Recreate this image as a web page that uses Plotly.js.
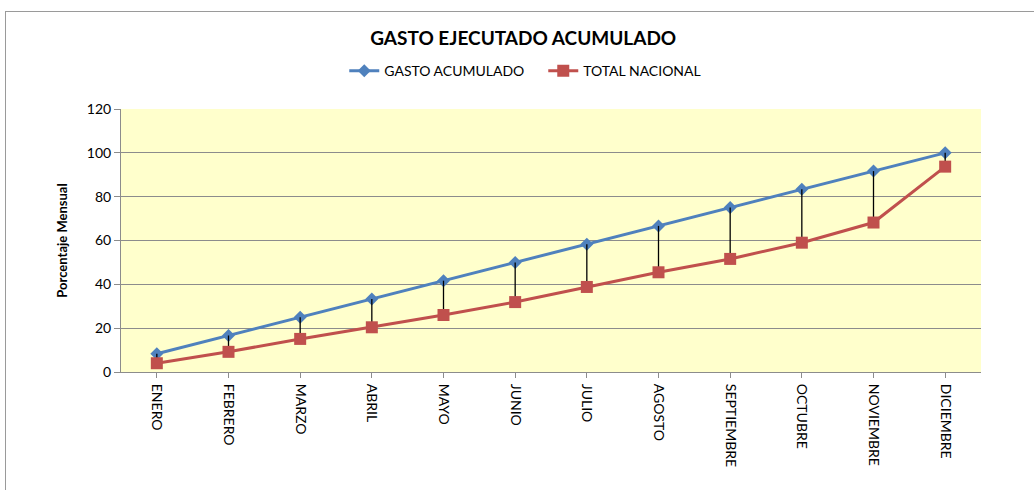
<!DOCTYPE html>
<html>
<head>
<meta charset="utf-8">
<script src="https://cdn.plot.ly/plotly-3.0.1.min.js"></script>
<style>
html,body{margin:0;padding:0;background:#fff;overflow:hidden;}
#frame{position:absolute;left:5px;top:11px;width:1100px;height:600px;border-left:1px solid #9a9a9a;border-top:1px solid #9a9a9a;pointer-events:none;z-index:5;}
#chart{width:1034px;height:490px;}
</style>
</head>
<body>
<div id="frame"></div>
<div id="chart"></div>
<script>
const months = ["ENERO","FEBRERO","MARZO","ABRIL","MAYO","JUNIO","JULIO","AGOSTO","SEPTIEMBRE","OCTUBRE","NOVIEMBRE","DICIEMBRE"];
const gastoAcumulado = [8.33, 16.67, 25, 33.33, 41.67, 50, 58.33, 66.67, 75, 83.33, 91.67, 100];
const totalNacional = [4.0, 9.2, 15.1, 20.4, 26.0, 31.9, 38.8, 45.5, 51.6, 59.0, 68.2, 93.7];
const yTicks = [0, 20, 40, 60, 80, 100, 120];

const gap = gastoAcumulado.map((v, i) => v - totalNacional[i]);
const font = "Lato, 'Open Sans', 'Liberation Sans', sans-serif";

const traces = [
  {
    x: months, y: gastoAcumulado, name: "GASTO ACUMULADO", type: "scatter", mode: "lines+markers",
    line: {color: "#4F81BD", width: 3},
    marker: {symbol: "diamond", size: 10, color: "#4F81BD"}
  },
  {
    x: months, y: totalNacional, name: "TOTAL NACIONAL", type: "scatter", mode: "lines+markers",
    line: {color: "#C0504D", width: 3},
    marker: {symbol: "square", size: 12, color: "#C0504D"},
    error_y: {type: "data", symmetric: false, array: gap, arrayminus: gap.map(() => 0), color: "#000", thickness: 1.3, width: 0}
  }
];

const layout = {
  width: 1034, height: 490,
  margin: {l: 121, r: 53, t: 109, b: 118},
  paper_bgcolor: "#ffffff",
  plot_bgcolor: "#FFFFCC",
  font: {family: font, size: 14, color: "#000"},
  title: {text: "<b>GASTO EJECUTADO ACUMULADO</b>", font: {family: font, size: 19, color: "#000"}, x: 0.506, xanchor: "center", y: 0.921, yanchor: "middle"},
  showlegend: true,
  legend: {orientation: "h", x: 0.491, xanchor: "center", y: 1.144, yanchor: "middle", font: {family: font, size: 14}, itemwidth: 30, tracegroupgap: 0, entrywidth: 154},
  xaxis: {
    type: "category", tickangle: 90, ticks: "outside", ticklen: 5, tickcolor: "#8c8c8c",
    showline: true, linecolor: "#8c8c8c", linewidth: 1, showgrid: false, zeroline: false,
    tickfont: {family: font, size: 14}, ticklabelstandoff: 3, range: [-0.5, 11.5], fixedrange: true
  },
  yaxis: {
    range: [0, 120], tickvals: yTicks, ticktext: yTicks.map(String),
    ticks: "outside", ticklen: 6, tickcolor: "#8c8c8c",
    showline: true, linecolor: "#8c8c8c", linewidth: 1,
    showgrid: true, gridcolor: "#8c8c8c", gridwidth: 1, zeroline: false,
    tickfont: {family: font, size: 14},
    title: {text: "<b>Porcentaje Mensual</b>", font: {family: font, size: 13}, standoff: 16}
  }
};

Plotly.newPlot("chart", traces, layout, {displayModeBar: false, staticPlot: true});
</script>
</body>
</html>
